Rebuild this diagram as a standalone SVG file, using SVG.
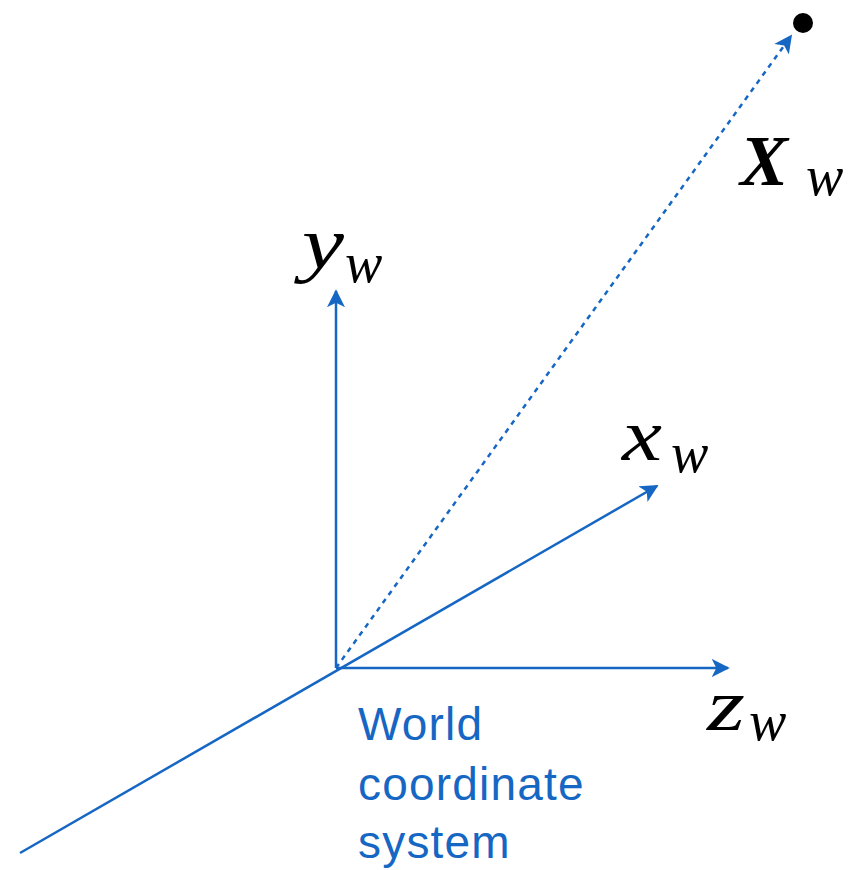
<svg xmlns="http://www.w3.org/2000/svg" width="848" height="870" viewBox="0 0 848 870">
<style>
.ax{stroke:#1667c4;stroke-width:2.5;fill:none}
.dot{stroke:#1667c4;stroke-width:2.5;fill:none;stroke-dasharray:5,5}
.m{font-family:"Liberation Serif",serif;font-style:italic;fill:#000}
.big{font-size:74px}
.sub{font-size:56px}
.lbl{font-family:"Liberation Sans",Arial,sans-serif;font-size:46px;letter-spacing:1.2px;fill:#1667c4}
</style>
<defs>
<marker id="ahb" viewBox="0 0 10 10" refX="9" refY="5" markerWidth="18" markerHeight="18" markerUnits="userSpaceOnUse" orient="auto">
<path d="M0,0 L10,5 L0,10 L2.5,5 Z" fill="#1667c4"/>
</marker>
</defs>
<g id="connectors">
<line class="ax" x1="336" y1="668" x2="336" y2="291" marker-end="url(#ahb)"/>
<line class="ax" x1="336" y1="668" x2="728" y2="668" marker-end="url(#ahb)"/>
<line class="ax" x1="20" y1="853" x2="657" y2="486" marker-end="url(#ahb)"/>
<line class="dot" x1="336" y1="668" x2="791" y2="36" marker-end="url(#ahb)"/>
</g>
<g id="point">
<circle cx="803" cy="23" r="10" fill="#000"/>
</g>
<g id="label-Xw">
<text class="m" x="740" y="185" font-size="72" font-weight="bold">X</text>
<text class="m sub" x="806" y="195">w</text>
</g>
<g id="label-yw">
<text class="m big" x="302" y="268" textLength="42" lengthAdjust="spacingAndGlyphs">y</text>
<text class="m sub" x="345" y="282">w</text>
</g>
<g id="label-xw">
<text class="m big" x="622" y="460" textLength="40" lengthAdjust="spacingAndGlyphs">x</text>
<text class="m sub" x="671" y="472">w</text>
</g>
<g id="label-zw">
<text class="m big" x="707" y="730" textLength="38" lengthAdjust="spacingAndGlyphs">z</text>
<text class="m sub" x="749" y="740">w</text>
</g>
<g id="label-world">
<text class="lbl" x="358" y="740">World</text>
<text class="lbl" x="358" y="800">coordinate</text>
<text class="lbl" x="358" y="858">system</text>
</g>
</svg>
